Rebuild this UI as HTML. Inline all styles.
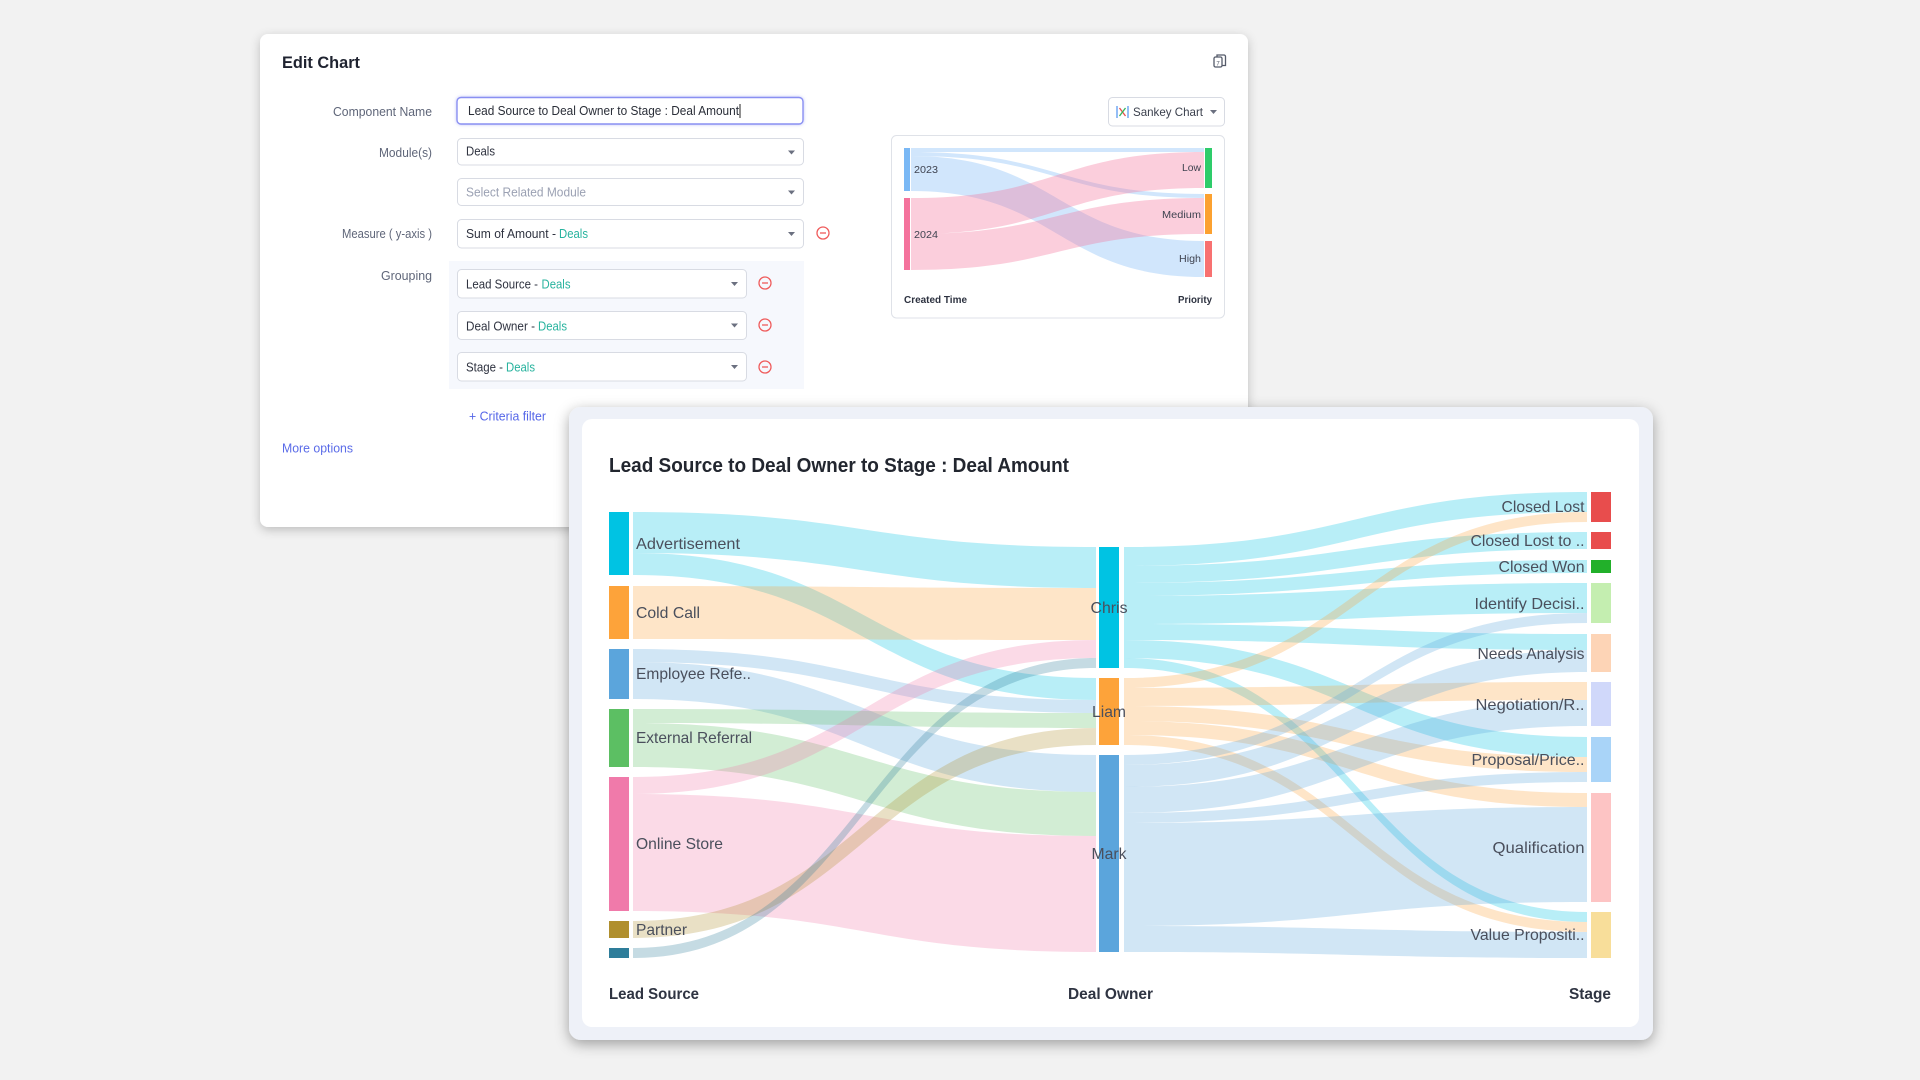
<!DOCTYPE html>
<html><head><meta charset="utf-8"><style>
html,body{margin:0;padding:0;background:#f2f2f2;}
svg{display:block;font-family:"Liberation Sans",Arial,sans-serif;}
</style></head><body>
<svg width="1920" height="1080" viewBox="0 0 1920 1080" xmlns="http://www.w3.org/2000/svg">
<defs>
<filter id="sh1" x="-5%" y="-10%" width="110%" height="125%"><feDropShadow dx="0" dy="3" stdDeviation="5" flood-color="#000" flood-opacity="0.22"/></filter>
<filter id="sh2" x="-5%" y="-8%" width="110%" height="120%"><feDropShadow dx="0" dy="4" stdDeviation="7" flood-color="#000" flood-opacity="0.35"/></filter>
<filter id="glow" x="-5%" y="-30%" width="110%" height="160%"><feDropShadow dx="0" dy="0" stdDeviation="1.5" flood-color="#7d85f0" flood-opacity="0.5"/></filter>
</defs>
<rect width="1920" height="1080" fill="#f2f2f2"/>

<!-- EDIT CHART PANEL -->
<rect x="260" y="34" width="988" height="493" rx="8" fill="#ffffff" filter="url(#sh1)"/>
<text x="282" y="68" font-size="17" font-weight="bold" fill="#1f2330" textLength="78" lengthAdjust="spacingAndGlyphs">Edit Chart</text>
<!-- copy icon -->
<g fill="none" stroke="#555b6a" stroke-width="1.3">
<rect x="1214" y="57" width="8" height="10" rx="1.5" fill="#fff"/>
<path d="M1217 57 v-2 h7 a1.5 1.5 0 0 1 1.5 1.5 v9 h-3"/>
</g>
<text x="1218" y="65.5" font-size="6" fill="#555b6a" text-anchor="middle">7</text>

<!-- labels -->
<g font-size="12.5" fill="#5f6679" text-anchor="end">
<text x="432" y="116" textLength="99" lengthAdjust="spacingAndGlyphs">Component Name</text>
<text x="432" y="157" textLength="53" lengthAdjust="spacingAndGlyphs">Module(s)</text>
<text x="432" y="238" textLength="90" lengthAdjust="spacingAndGlyphs">Measure ( y-axis )</text>
<text x="432" y="280" textLength="51" lengthAdjust="spacingAndGlyphs">Grouping</text>
</g>

<!-- input -->
<rect x="457" y="97.5" width="346" height="26.5" rx="4" fill="#fff" stroke="#8a90f2" stroke-width="1.4" filter="url(#glow)"/>
<text x="468" y="115" font-size="12.5" fill="#2a2e38" textLength="271" lengthAdjust="spacingAndGlyphs">Lead Source to Deal Owner to Stage : Deal Amount</text>
<line x1="740" y1="104" x2="740" y2="118" stroke="#222" stroke-width="1"/>

<g fill="#fff" stroke="#d8dbe3" stroke-width="1">
<rect x="457.5" y="138.5" width="346" height="26.5" rx="4"/>
<rect x="457.5" y="178.5" width="346" height="27" rx="4"/>
<rect x="457.5" y="219.5" width="346" height="28.5" rx="4"/>
</g>
<rect x="449" y="261" width="355" height="128" fill="#f6f8fd"/>
<g fill="#fff" stroke="#d8dbe3" stroke-width="1">
<rect x="457.5" y="269.5" width="289" height="28.5" rx="4"/>
<rect x="457.5" y="311.5" width="289" height="28" rx="4"/>
<rect x="457.5" y="352.5" width="289" height="28.5" rx="4"/>
</g>
<g font-size="12.5" fill="#2f3340">
<text x="466" y="155.5" textLength="29" lengthAdjust="spacingAndGlyphs">Deals</text>
<text x="466" y="196.5" fill="#9ba1b3" textLength="120" lengthAdjust="spacingAndGlyphs">Select Related Module</text>
<text x="466" y="238" textLength="90" lengthAdjust="spacingAndGlyphs">Sum of Amount -</text>
<text x="559" y="238" fill="#27b39e" textLength="29" lengthAdjust="spacingAndGlyphs">Deals</text>
<text x="466" y="288.5" textLength="72" lengthAdjust="spacingAndGlyphs">Lead Source -</text>
<text x="541.5" y="288.5" fill="#27b39e" textLength="29" lengthAdjust="spacingAndGlyphs">Deals</text>
<text x="466" y="330.5" textLength="69" lengthAdjust="spacingAndGlyphs">Deal Owner -</text>
<text x="538" y="330.5" fill="#27b39e" textLength="29" lengthAdjust="spacingAndGlyphs">Deals</text>
<text x="466" y="371.5" textLength="37" lengthAdjust="spacingAndGlyphs">Stage -</text>
<text x="506" y="371.5" fill="#27b39e" textLength="29" lengthAdjust="spacingAndGlyphs">Deals</text>
</g>
<!-- carets -->
<g fill="#6b7080">
<path d="M788 150.5 h7 l-3.5 4 z"/>
<path d="M788 190.5 h7 l-3.5 4 z"/>
<path d="M788 232 h7 l-3.5 4 z"/>
<path d="M731 282 h7 l-3.5 4 z"/>
<path d="M731 323.5 h7 l-3.5 4 z"/>
<path d="M731 365 h7 l-3.5 4 z"/>
</g>
<!-- minus icons -->
<g fill="none" stroke="#ef5b5b" stroke-width="1.3">
<circle cx="823" cy="233" r="6"/><line x1="820" y1="233" x2="826" y2="233"/>
<circle cx="765" cy="283" r="6"/><line x1="762" y1="283" x2="768" y2="283"/>
<circle cx="765" cy="325" r="6"/><line x1="762" y1="325" x2="768" y2="325"/>
<circle cx="765" cy="367" r="6"/><line x1="762" y1="367" x2="768" y2="367"/>
</g>
<text x="469" y="420.5" font-size="12.5" fill="#5566e8" textLength="77" lengthAdjust="spacingAndGlyphs">+ Criteria filter</text>
<text x="282" y="452.5" font-size="12.5" fill="#5a6be8" textLength="71" lengthAdjust="spacingAndGlyphs">More options</text>

<!-- Sankey chart button -->
<rect x="1108.5" y="97.5" width="116" height="28.5" rx="4" fill="#fff" stroke="#d8dbe3"/>
<g stroke-width="1.3">
<line x1="1117" y1="106" x2="1117" y2="118" stroke="#5b9cf0"/>
<line x1="1128" y1="106" x2="1128" y2="118" stroke="#5b9cf0"/>
<line x1="1119.5" y1="108" x2="1125.5" y2="116" stroke="#e84d4d"/>
<line x1="1125.5" y1="108" x2="1119.5" y2="116" stroke="#34b55a"/>
</g>
<text x="1133" y="116" font-size="12" fill="#3a3f4c" textLength="70" lengthAdjust="spacingAndGlyphs">Sankey Chart</text>
<path d="M1210 110 h7 l-3.5 4 z" fill="#6b7080"/>

<!-- mini chart -->
<rect x="891.5" y="135.5" width="333" height="182.5" rx="5" fill="#fff" stroke="#dfe2e8"/>
<g fill="#7ab8f5" fill-opacity="0.35">
<path d="M911 148 C1057.5 148,1057.5 148,1204 148 L1204 152 C1057.5 152,1057.5 152,911 152 Z"/>
<path d="M911 152 C1057.5 152,1057.5 194,1204 194 L1204 198 C1057.5 198,1057.5 156,911 156 Z"/>
<path d="M911 156 C1057.5 156,1057.5 241,1204 241 L1204 277 C1057.5 277,1057.5 191,911 191 Z"/>
</g>
<g fill="#f4729c" fill-opacity="0.35">
<path d="M911 198 C1057.5 198,1057.5 152,1204 152 L1204 188 C1057.5 188,1057.5 234,911 234 Z"/>
<path d="M911 234 C1057.5 234,1057.5 198,1204 198 L1204 234 C1057.5 234,1057.5 270,911 270 Z"/>
</g>
<rect x="904" y="148" width="6" height="43" fill="#7ab8f5"/>
<rect x="904" y="198" width="6" height="72" fill="#f4729c"/>
<rect x="1205" y="148" width="7" height="40" fill="#2ecc6a"/>
<rect x="1205" y="194" width="7" height="40" fill="#fca130"/>
<rect x="1205" y="241" width="7" height="36" fill="#f87171"/>
<g font-size="10.5" fill="#3f4350">
<text x="914" y="173" textLength="24" lengthAdjust="spacingAndGlyphs">2023</text>
<text x="914" y="238" textLength="24" lengthAdjust="spacingAndGlyphs">2024</text>
<text x="1201" y="171" text-anchor="end" textLength="19" lengthAdjust="spacingAndGlyphs">Low</text>
<text x="1201" y="218" text-anchor="end" textLength="39" lengthAdjust="spacingAndGlyphs">Medium</text>
<text x="1201" y="262" text-anchor="end" textLength="22" lengthAdjust="spacingAndGlyphs">High</text>
<text x="904" y="303" font-weight="bold" fill="#2d3240" textLength="63" lengthAdjust="spacingAndGlyphs">Created Time</text>
<text x="1212" y="303" font-weight="bold" fill="#2d3240" text-anchor="end" textLength="34" lengthAdjust="spacingAndGlyphs">Priority</text>
</g>

<!-- FRONT PANEL -->
<rect x="569" y="407" width="1084" height="633" rx="12" fill="#eef1f8" filter="url(#sh2)"/>
<rect x="582" y="419" width="1057" height="608" rx="10" fill="#ffffff"/>
<text x="609" y="472" font-size="20" font-weight="bold" fill="#22262f" textLength="460" lengthAdjust="spacingAndGlyphs">Lead Source to Deal Owner to Stage : Deal Amount</text>

<!-- left links -->
<g fill-opacity="0.28">
<path fill="#00c3e3" d="M633 512 C864.5 512,864.5 547,1096 547 L1096 588 C864.5 588,864.5 553,633 553 Z"/>
<path fill="#00c3e3" d="M633 553 C864.5 553,864.5 678,1096 678 L1096 700 C864.5 700,864.5 575,633 575 Z"/>
<path fill="#fda33a" d="M633 586 C864.5 586,864.5 588,1096 588 L1096 640 C864.5 640,864.5 639,633 639 Z"/>
<path fill="#5ba5dc" d="M633 649 C864.5 649,864.5 700,1096 700 L1096 713 C864.5 713,864.5 662,633 662 Z"/>
<path fill="#5ba5dc" d="M633 662 C864.5 662,864.5 755,1096 755 L1096 792 C864.5 792,864.5 699,633 699 Z"/>
<path fill="#5cbf63" d="M633 709 C864.5 709,864.5 713,1096 713 L1096 728 C864.5 728,864.5 723,633 723 Z"/>
<path fill="#5cbf63" d="M633 723 C864.5 723,864.5 792,1096 792 L1096 836 C864.5 836,864.5 767,633 767 Z"/>
<path fill="#f07aaa" d="M633 777 C864.5 777,864.5 640,1096 640 L1096 658 C864.5 658,864.5 794,633 794 Z"/>
<path fill="#f07aaa" d="M633 794 C864.5 794,864.5 836,1096 836 L1096 952 C864.5 952,864.5 911,633 911 Z"/>
<path fill="#b08f2e" d="M633 921 C864.5 921,864.5 728,1096 728 L1096 745 C864.5 745,864.5 938,633 938 Z"/>
<path fill="#2e7d9a" d="M633 948 C864.5 948,864.5 658,1096 658 L1096 668 C864.5 668,864.5 958,633 958 Z"/>
</g>

<!-- right links -->
<g fill-opacity="0.28">
<g fill="#00c3e3">
<path d="M1124 547 C1355.5 547,1355.5 492,1587 492 L1587 512 C1355.5 512,1355.5 566,1124 566 Z"/>
<path d="M1124 566 C1355.5 566,1355.5 532,1587 532 L1587 549 C1355.5 549,1355.5 583,1124 583 Z"/>
<path d="M1124 583 C1355.5 583,1355.5 560,1587 560 L1587 573 C1355.5 573,1355.5 596,1124 596 Z"/>
<path d="M1124 596 C1355.5 596,1355.5 583,1587 583 L1587 613 C1355.5 613,1355.5 624,1124 624 Z"/>
<path d="M1124 624 C1355.5 624,1355.5 634,1587 634 L1587 650 C1355.5 650,1355.5 640,1124 640 Z"/>
<path d="M1124 640 C1355.5 640,1355.5 737,1587 737 L1587 757 C1355.5 757,1355.5 658,1124 658 Z"/>
<path d="M1124 658 C1355.5 658,1355.5 912,1587 912 L1587 922 C1355.5 922,1355.5 668,1124 668 Z"/>
</g>
<g fill="#fda33a">
<path d="M1124 678 C1355.5 678,1355.5 512,1587 512 L1587 522 C1355.5 522,1355.5 688,1124 688 Z"/>
<path d="M1124 688 C1355.5 688,1355.5 682,1587 682 L1587 700 C1355.5 700,1355.5 706,1124 706 Z"/>
<path d="M1124 706 C1355.5 706,1355.5 757,1587 757 L1587 772 C1355.5 772,1355.5 721,1124 721 Z"/>
<path d="M1124 721 C1355.5 721,1355.5 793,1587 793 L1587 807 C1355.5 807,1355.5 735,1124 735 Z"/>
<path d="M1124 735 C1355.5 735,1355.5 922,1587 922 L1587 932 C1355.5 932,1355.5 745,1124 745 Z"/>
</g>
<g fill="#5ba5dc">
<path d="M1124 755 C1355.5 755,1355.5 613,1587 613 L1587 623 C1355.5 623,1355.5 765,1124 765 Z"/>
<path d="M1124 765 C1355.5 765,1355.5 650,1587 650 L1587 672 C1355.5 672,1355.5 787,1124 787 Z"/>
<path d="M1124 787 C1355.5 787,1355.5 700,1587 700 L1587 726 C1355.5 726,1355.5 813,1124 813 Z"/>
<path d="M1124 813 C1355.5 813,1355.5 772,1587 772 L1587 782 C1355.5 782,1355.5 823,1124 823 Z"/>
<path d="M1124 823 C1355.5 823,1355.5 807,1587 807 L1587 902 C1355.5 902,1355.5 926,1124 926 Z"/>
<path d="M1124 926 C1355.5 926,1355.5 932,1587 932 L1587 958 C1355.5 958,1355.5 952,1124 952 Z"/>
</g>
</g>

<!-- nodes -->
<rect x="609" y="512" width="20" height="63" fill="#00c3e3"/>
<rect x="609" y="586" width="20" height="53" fill="#fda33a"/>
<rect x="609" y="649" width="20" height="50" fill="#5ba5dc"/>
<rect x="609" y="709" width="20" height="58" fill="#5cbf63"/>
<rect x="609" y="777" width="20" height="134" fill="#f07aaa"/>
<rect x="609" y="921" width="20" height="17" fill="#b08f2e"/>
<rect x="609" y="948" width="20" height="10" fill="#2e7d9a"/>

<rect x="1099" y="547" width="20" height="121" fill="#00c3e3"/>
<rect x="1099" y="678" width="20" height="67" fill="#fda33a"/>
<rect x="1099" y="755" width="20" height="197" fill="#5ba5dc"/>

<rect x="1591" y="492" width="20" height="30" fill="#e84d4d"/>
<rect x="1591" y="532" width="20" height="17" fill="#e84d4d"/>
<rect x="1591" y="560" width="20" height="13" fill="#22b02a"/>
<rect x="1591" y="583" width="20" height="40" fill="#c4eeb0"/>
<rect x="1591" y="634" width="20" height="38" fill="#fdd4b6"/>
<rect x="1591" y="682" width="20" height="44" fill="#d0d8fa"/>
<rect x="1591" y="737" width="20" height="45" fill="#a9d4f8"/>
<rect x="1591" y="793" width="20" height="109" fill="#fdc4c4"/>
<rect x="1591" y="912" width="20" height="46" fill="#f8de9a"/>

<!-- node labels -->
<g font-size="16" fill="#4a4f5c">
<text x="636" y="549" textLength="104" lengthAdjust="spacingAndGlyphs">Advertisement</text>
<text x="636" y="618" textLength="64" lengthAdjust="spacingAndGlyphs">Cold Call</text>
<text x="636" y="679" textLength="115" lengthAdjust="spacingAndGlyphs">Employee Refe..</text>
<text x="636" y="743" textLength="116" lengthAdjust="spacingAndGlyphs">External Referral</text>
<text x="636" y="849" textLength="87" lengthAdjust="spacingAndGlyphs">Online Store</text>
<text x="636" y="935" textLength="51" lengthAdjust="spacingAndGlyphs">Partner</text>

<text x="1109" y="613" text-anchor="middle" textLength="37" lengthAdjust="spacingAndGlyphs">Chris</text>
<text x="1109" y="717" text-anchor="middle" textLength="34" lengthAdjust="spacingAndGlyphs">Liam</text>
<text x="1109" y="859" text-anchor="middle" textLength="35" lengthAdjust="spacingAndGlyphs">Mark</text>

<g text-anchor="end">
<text x="1584.5" y="512" textLength="83" lengthAdjust="spacingAndGlyphs">Closed Lost</text>
<text x="1584.5" y="546" textLength="114" lengthAdjust="spacingAndGlyphs">Closed Lost to ..</text>
<text x="1584.5" y="572" textLength="86" lengthAdjust="spacingAndGlyphs">Closed Won</text>
<text x="1584.5" y="609" textLength="110" lengthAdjust="spacingAndGlyphs">Identify Decisi..</text>
<text x="1584.5" y="659" textLength="107" lengthAdjust="spacingAndGlyphs">Needs Analysis</text>
<text x="1584.5" y="710" textLength="109" lengthAdjust="spacingAndGlyphs">Negotiation/R..</text>
<text x="1584.5" y="765" textLength="113" lengthAdjust="spacingAndGlyphs">Proposal/Price..</text>
<text x="1584.5" y="853" textLength="92" lengthAdjust="spacingAndGlyphs">Qualification</text>
<text x="1584.5" y="940" textLength="114" lengthAdjust="spacingAndGlyphs">Value Propositi..</text>
</g>
</g>

<g font-size="16" font-weight="bold" fill="#2f3442">
<text x="609" y="999" textLength="90" lengthAdjust="spacingAndGlyphs">Lead Source</text>
<text x="1068" y="999" textLength="85" lengthAdjust="spacingAndGlyphs">Deal Owner</text>
<text x="1611" y="999" text-anchor="end" textLength="42" lengthAdjust="spacingAndGlyphs">Stage</text>
</g>
</svg>
</body></html>
